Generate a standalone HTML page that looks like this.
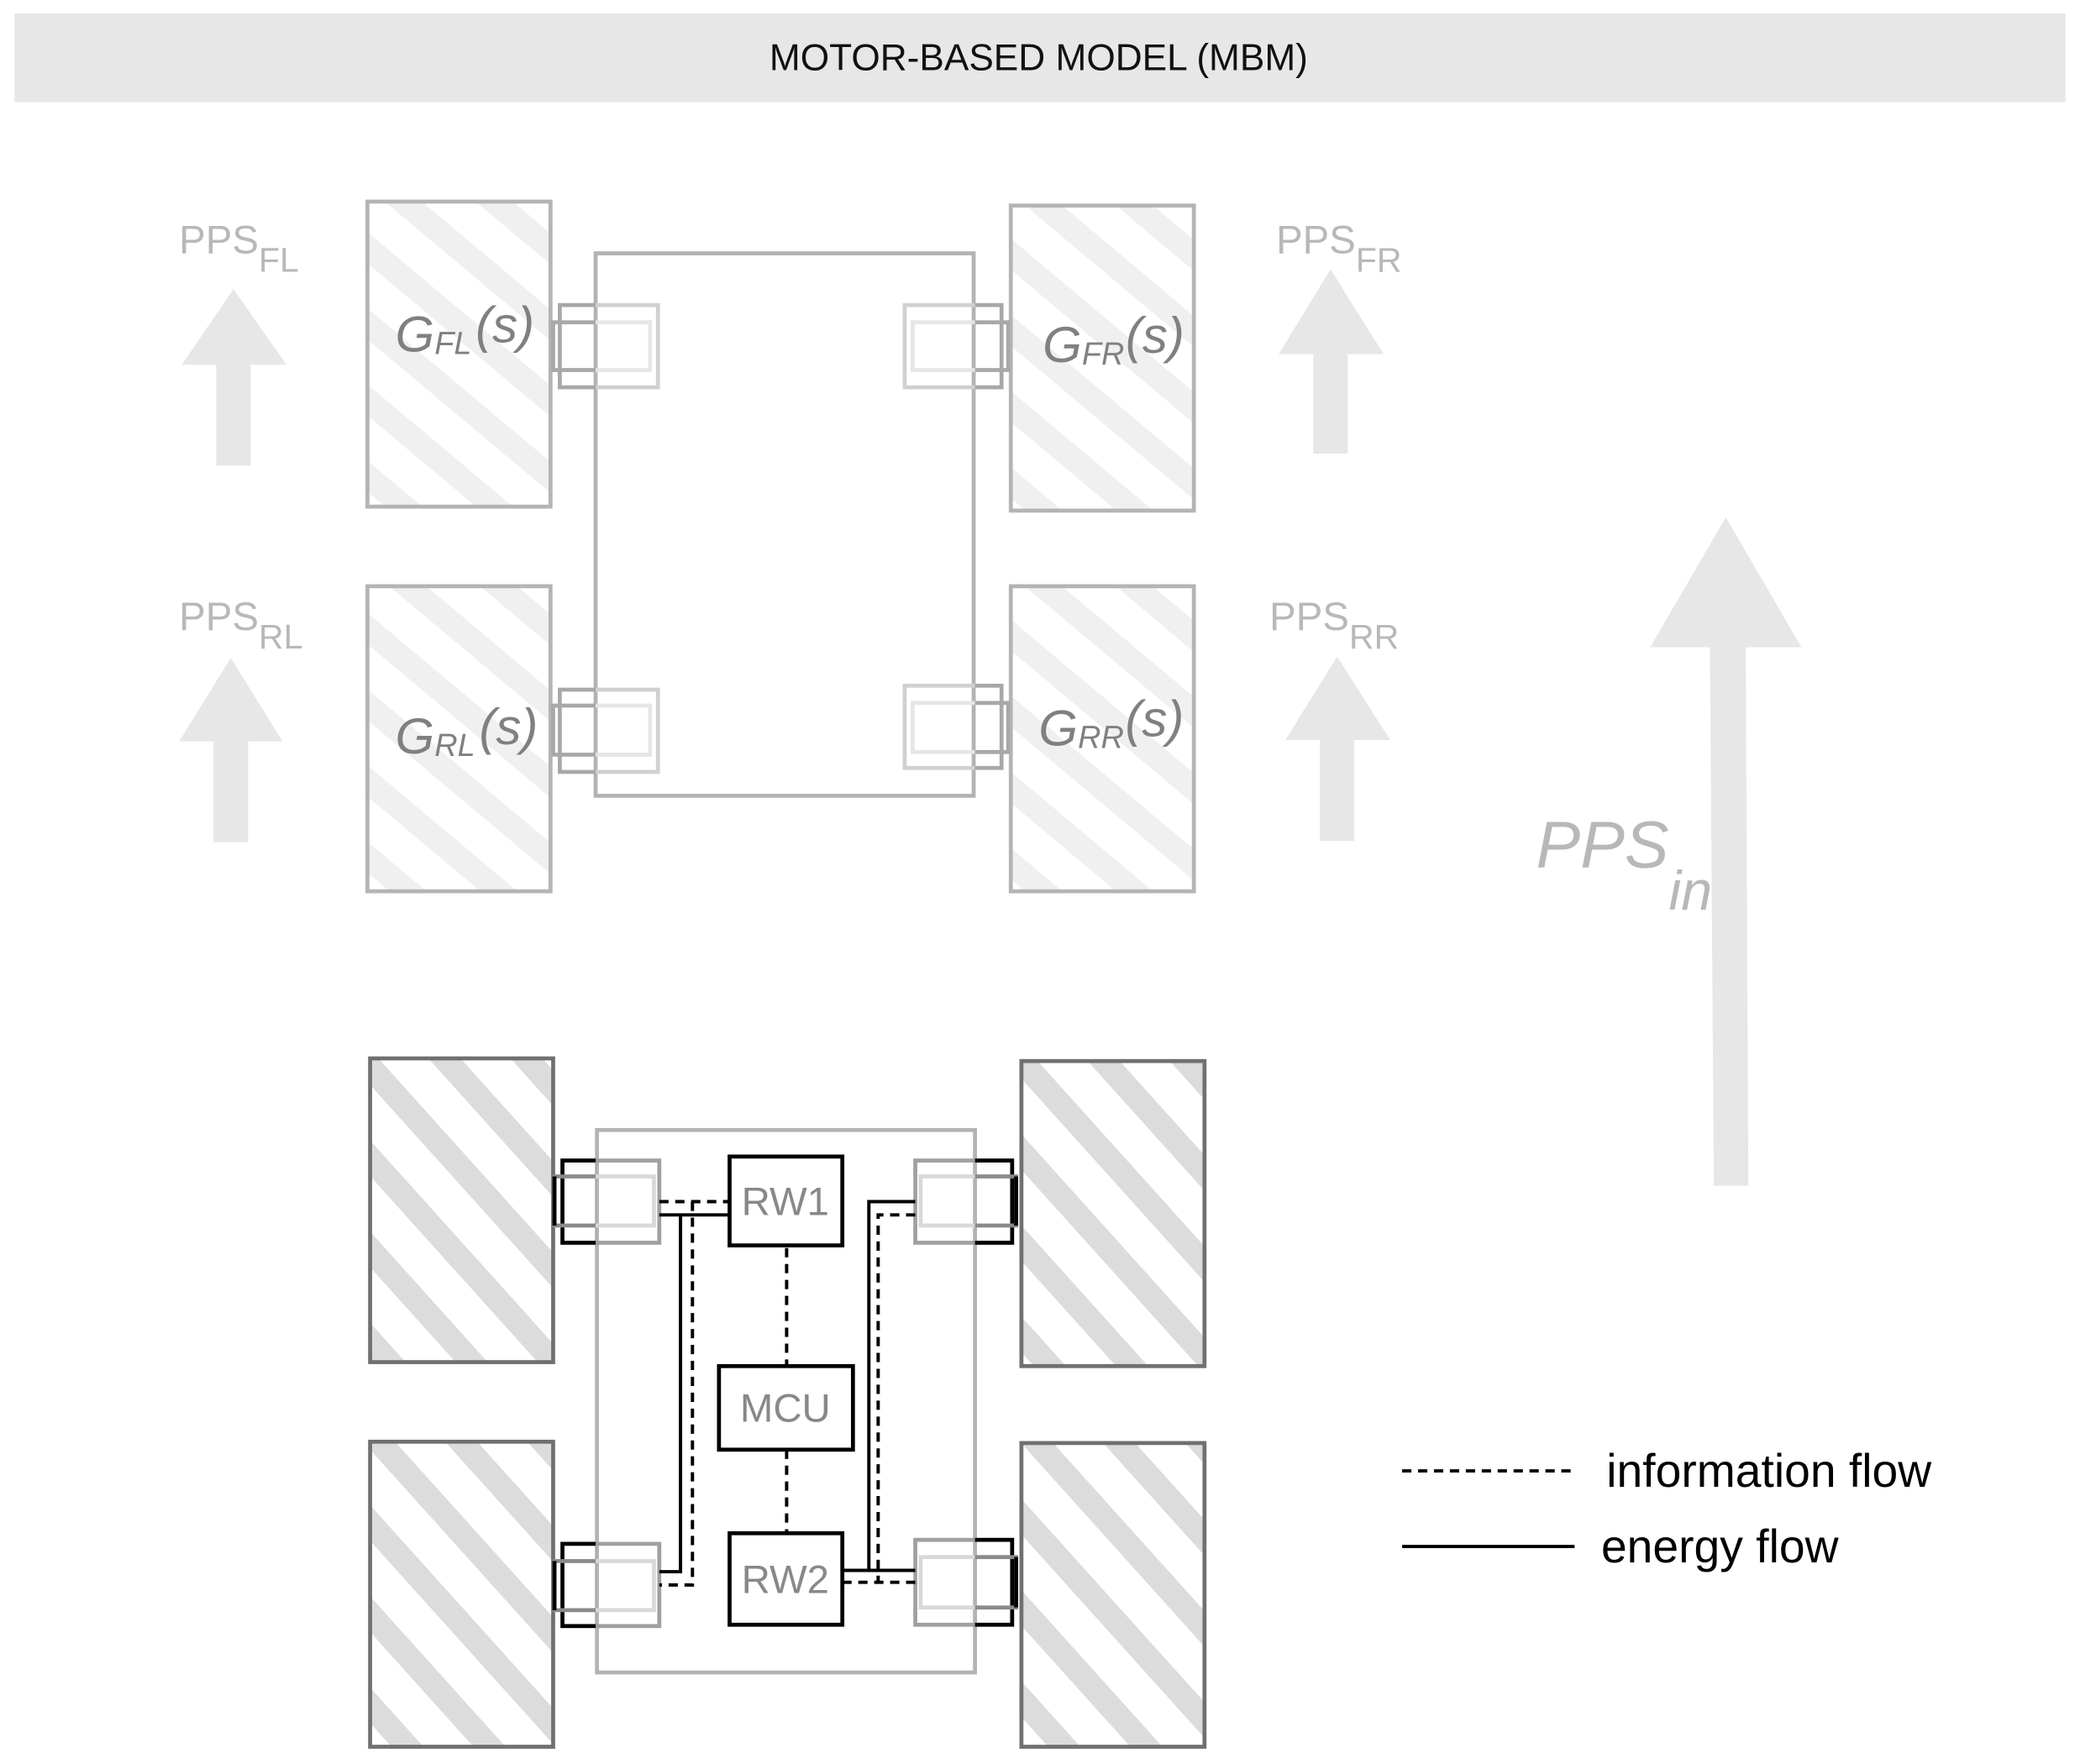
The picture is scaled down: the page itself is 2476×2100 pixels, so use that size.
<!DOCTYPE html>
<html><head><meta charset="utf-8"><style>
html,body{margin:0;padding:0;background:#fff;}
svg{display:block;}
text{font-family:"Liberation Sans",sans-serif;}
</style></head><body>
<svg width="2476" height="2100" viewBox="0 0 1568 1330" preserveAspectRatio="none" xmlns="http://www.w3.org/2000/svg">
<defs>
<pattern id="pl" width="44" height="44" patternUnits="userSpaceOnUse" patternTransform="rotate(40)">
<rect width="44" height="44" fill="#fff"/><rect width="44" height="18" fill="#f0f0f0"/></pattern>
<pattern id="pd" width="46" height="46" patternUnits="userSpaceOnUse" patternTransform="rotate(48)">
<rect width="46" height="46" fill="#fff"/><rect width="46" height="18" fill="#dcdcdc"/></pattern>
<clipPath id="L"><rect x="0" y="0" width="449" height="1330"/></clipPath>
<clipPath id="R"><rect x="449" y="0" width="1200" height="1330"/></clipPath>
<clipPath id="L2"><rect x="0" y="0" width="735" height="1330"/></clipPath>
<clipPath id="R2"><rect x="735" y="0" width="900" height="1330"/></clipPath>
</defs>

<rect x="11" y="10" width="1546" height="67" fill="#e6e7e6"/>
<text x="783" y="53" font-size="28" text-anchor="middle" fill="#111">MOTOR-BASED MODEL (MBM)</text>

<g stroke="#b5b3b3" stroke-width="3">
<rect x="277" y="152" width="138" height="230" fill="url(#pl)"/>
<rect x="762" y="155" width="138" height="230" fill="url(#pl)"/>
<rect x="277" y="442" width="138" height="230" fill="url(#pl)"/>
<rect x="762" y="442" width="138" height="230" fill="url(#pl)"/>
</g>
<rect x="449" y="191" width="285" height="409" fill="none" stroke="#b3b3b3" stroke-width="3"/>
<g fill="none" stroke-width="3">
<g clip-path="url(#L)"><rect x="422" y="230" width="74" height="62" stroke="#a8a8a8"/><rect x="417" y="243" width="73" height="36" stroke="#a8a8a8"/>
<rect x="422" y="520" width="74" height="62" stroke="#a8a8a8"/><rect x="417" y="532" width="73" height="37" stroke="#a8a8a8"/></g>
<g clip-path="url(#R)"><rect x="422" y="230" width="74" height="62" stroke="#d0d0d0"/><rect x="417" y="243" width="73" height="36" stroke="#e6e6e6"/>
<rect x="422" y="520" width="74" height="62" stroke="#d0d0d0"/><rect x="417" y="532" width="73" height="37" stroke="#e6e6e6"/></g>
<g clip-path="url(#L2)"><rect x="682" y="230" width="73" height="62" stroke="#d0d0d0"/><rect x="688" y="243" width="72" height="36" stroke="#e6e6e6"/>
<rect x="682" y="517" width="73" height="62" stroke="#d0d0d0"/><rect x="688" y="530" width="72" height="37" stroke="#e6e6e6"/></g>
<g clip-path="url(#R2)"><rect x="682" y="230" width="73" height="62" stroke="#a8a8a8"/><rect x="688" y="243" width="72" height="36" stroke="#a8a8a8"/>
<rect x="682" y="517" width="73" height="62" stroke="#a8a8a8"/><rect x="688" y="530" width="72" height="37" stroke="#a8a8a8"/></g>
</g>
<g fill="#808080" font-style="italic">
<text x="298" y="265" font-size="38">G<tspan font-size="24" dy="2">FL</tspan><tspan font-size="38" dx="3" dy="-9">(s)</tspan></text>
<text x="786" y="273" font-size="38">G<tspan font-size="24" dy="2">FR</tspan><tspan font-size="38" dx="1" dy="-9">(s)</tspan></text>
<text x="298" y="568" font-size="38">G<tspan font-size="24" dy="2">RL</tspan><tspan font-size="38" dx="3" dy="-9">(s)</tspan></text>
<text x="783" y="562" font-size="38">G<tspan font-size="24" dy="2">RR</tspan><tspan font-size="38" dx="1" dy="-9">(s)</tspan></text>
</g>

<g fill="#e6e7e6">
<polygon points="176,218 216,275 189,275 189,351 163,351 163,275 137,275"/>
<polygon points="174,496 213,559 187,559 187,635 161,635 161,559 135,559"/>
<polygon points="1003,203 1043,267 1016,267 1016,342 990,342 990,267 964,267"/>
<polygon points="1008,495 1048,558 1021,558 1021,634 995,634 995,558 969,558"/>
<polygon points="1301,390 1358,488 1316,488 1318,894 1292,894 1289,488 1244,488"/>
</g>
<g fill="#b8b8b8" font-size="30">
<text x="135" y="191">PPS<tspan font-size="26" dy="14">FL</tspan></text>
<text x="135" y="475">PPS<tspan font-size="26" dy="14">RL</tspan></text>
<text x="962" y="191">PPS<tspan font-size="26" dy="14">FR</tspan></text>
<text x="957" y="475">PPS<tspan font-size="26" dy="14">RR</tspan></text>
<text x="1158" y="654" font-size="50" font-style="italic">PPS<tspan font-size="42" dy="32">in</tspan></text>
</g>

<g stroke="#707070" stroke-width="3">
<rect x="279" y="798" width="138" height="229" fill="url(#pd)"/>
<rect x="770" y="800" width="138" height="230" fill="url(#pd)"/>
<rect x="279" y="1087" width="138" height="230" fill="url(#pd)"/>
<rect x="770" y="1088" width="138" height="229" fill="url(#pd)"/>
</g>
<rect x="450" y="852" width="285" height="409" fill="none" stroke="#b3b3b3" stroke-width="3"/>
<g fill="none" stroke-width="3">
<g clip-path="url(#L)">
<rect x="424" y="875" width="73" height="62" stroke="#000"/><rect x="418" y="887" width="75" height="37" stroke="#8a8a8a"/><line x1="418" y1="887" x2="418" y2="924" stroke="#000"/>
<rect x="424" y="1164" width="73" height="62" stroke="#000"/><rect x="418" y="1177" width="75" height="37" stroke="#8a8a8a"/><line x1="418" y1="1177" x2="418" y2="1214" stroke="#000"/>
</g>
<g clip-path="url(#R)">
<rect x="448" y="875" width="49" height="62" stroke="#a0a0a0"/><rect x="418" y="887" width="75" height="37" stroke="#d8d8d8"/>
<rect x="448" y="1164" width="49" height="62" stroke="#a0a0a0"/><rect x="418" y="1177" width="75" height="37" stroke="#d8d8d8"/>
</g>
<g clip-path="url(#L2)">
<rect x="690" y="875" width="73" height="62" stroke="#a0a0a0"/><rect x="694" y="887" width="72" height="37" stroke="#d8d8d8"/>
<rect x="690" y="1161" width="73" height="64" stroke="#a0a0a0"/><rect x="694" y="1174" width="72" height="38" stroke="#d8d8d8"/>
</g>
<g clip-path="url(#R2)">
<rect x="690" y="875" width="73" height="62" stroke="#000"/><rect x="694" y="887" width="72" height="37" stroke="#8a8a8a"/><line x1="766" y1="887" x2="766" y2="924" stroke="#000"/>
<rect x="690" y="1161" width="73" height="64" stroke="#000"/><rect x="694" y="1174" width="72" height="38" stroke="#8a8a8a"/><line x1="766" y1="1174" x2="766" y2="1212" stroke="#000"/>
</g>
</g>
<g fill="#fff" stroke="#000" stroke-width="3">
<rect x="550" y="872" width="85" height="67"/>
<rect x="542" y="1030" width="101" height="63"/>
<rect x="550" y="1156" width="85" height="69"/>
</g>
<g fill="#888" font-size="30" text-anchor="middle">
<text x="592" y="916">RW1</text>
<text x="592" y="1072">MCU</text>
<text x="592" y="1201">RW2</text>
</g>
<g fill="none" stroke="#000" stroke-width="2.5">
<polyline points="550,916 513,916 513,1185 497,1185"/>
<line x1="497" y1="916" x2="513" y2="916"/>
<polyline points="690,906 655,906 655,1184 635,1184"/>
<line x1="655" y1="1184" x2="690" y2="1184"/>
</g>
<g fill="none" stroke="#000" stroke-width="2.5" stroke-dasharray="7,5">
<polyline points="497,906 550,906"/>
<polyline points="522,906 522,1195 497,1195"/>
<polyline points="690,916 662,916 662,1193"/>
<line x1="635" y1="1193" x2="690" y2="1193"/>
<line x1="593" y1="941" x2="593" y2="1030"/>
<line x1="593" y1="1093" x2="593" y2="1156"/>
<line x1="1057" y1="1109" x2="1187" y2="1109"/>
</g>
<line x1="1057" y1="1166" x2="1187" y2="1166" stroke="#000" stroke-width="2.5"/>
<g fill="#000" font-size="35">
<text x="1211" y="1121">information flow</text>
<text x="1207" y="1178">energy flow</text>
</g>
</svg>
</body></html>
